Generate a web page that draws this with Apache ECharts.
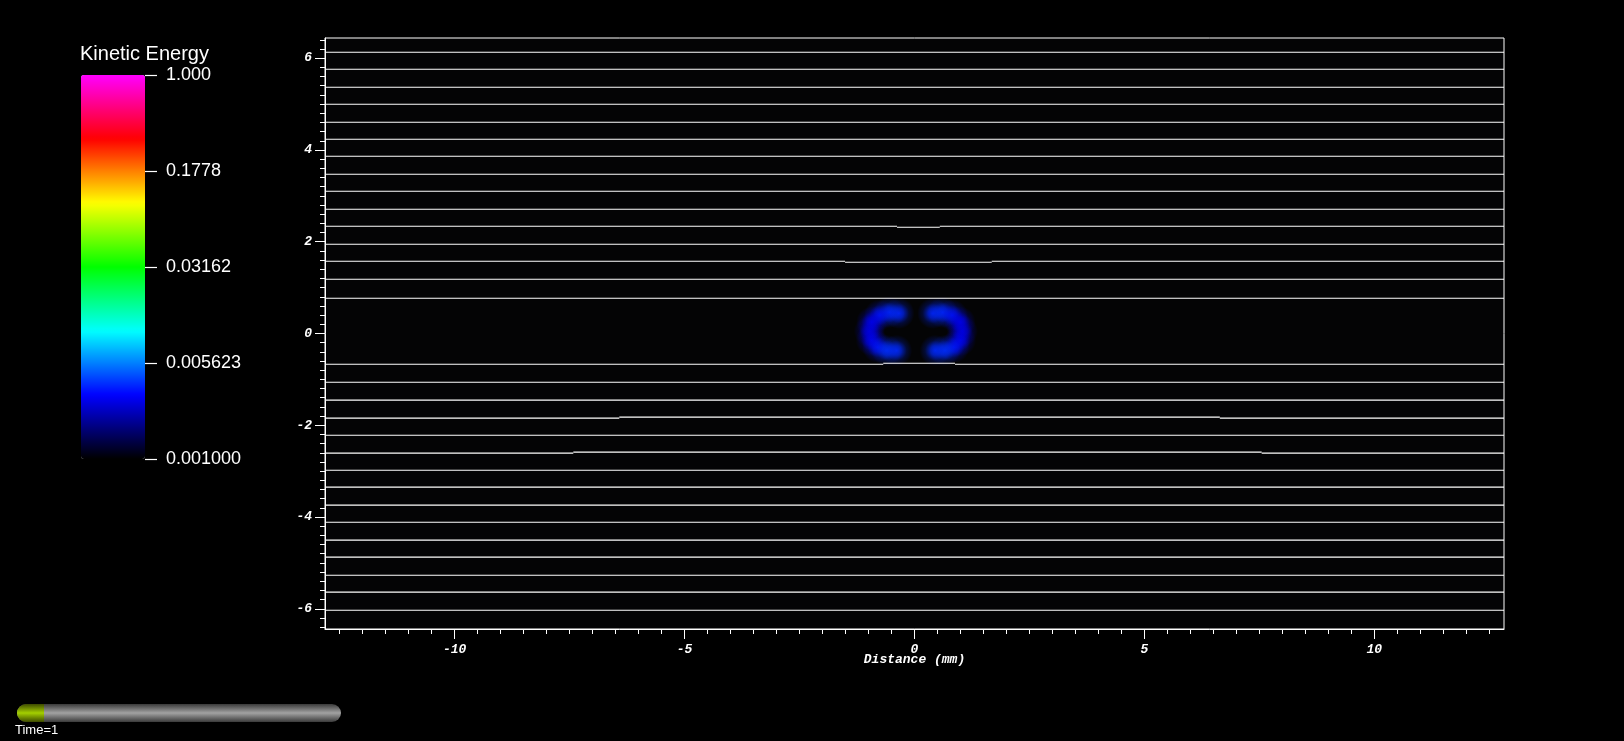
<!DOCTYPE html>
<html>
<head>
<meta charset="utf-8">
<script src="https://cdn.jsdelivr.net/npm/echarts@6/dist/echarts.min.js"></script>
<style>
html,body{margin:0;padding:0;background:#000;}
#c{width:1624px;height:741px;}
</style>
</head>
<body>
<div id="c"></div>
<script>
// ---------------- data ----------------
const xRange = [-12.82, 12.82];
const yRange = [-6.44, 6.44];
const xMajorTicks = [-10, -5, 0, 5, 10];
const yMajorTicks = [-6, -4, -2, 0, 2, 4, 6];
const xMinorStep = 0.5;
const yMinorStep = 0.2;
const xAxisTitle = 'Distance (mm)';

// white contour lines: base level of each line (mm)
const lineLevels = [6.130, 5.759, 5.367, 4.996, 4.604, 4.234, 3.864, 3.471, 3.101, 2.709,
  2.338, 1.946, 1.576, 1.183, 0.769,
  -0.669, -1.061, -1.453, -1.845, -2.216, -2.608, -2.979, -3.349, -3.741, -4.112,
  -4.504, -4.874, -5.267, -5.637, -6.030];
// small steps in some lines: line index, x start, x end, level inside the step
const stepLine = [10, 12, 15, 18, 20];
const stepX0 = [-0.38, -1.51, -0.68, -6.42, -7.42];
const stepX1 = [0.55, 1.68, 0.88, 6.64, 7.55];
const stepLevel = [2.316, 1.554, -0.647, -1.823, -2.586];

// kinetic energy field samples (two crescents): x, y (mm), log10(KE)
const blobX = [-0.34, -0.55, -0.76, -0.93, -0.98, -0.94, -0.80, -0.60, -0.39,
  0.40, 0.61, 0.82, 0.99, 1.04, 1.00, 0.86, 0.66, 0.45];
const blobY = [0.44, 0.46, 0.40, 0.25, 0.05, -0.15, -0.30, -0.37, -0.37,
  0.44, 0.46, 0.40, 0.25, 0.05, -0.15, -0.30, -0.37, -0.37];
const blobLogKE = [-2.43, -2.42, -2.46, -2.52, -2.55, -2.53, -2.47, -2.41, -2.42,
  -2.43, -2.42, -2.46, -2.52, -2.55, -2.53, -2.47, -2.41, -2.42];

const colorbarTitle = 'Kinetic Energy';
const colorbarTickValues = [-3, -2.25, -1.5, -0.75, 0];
const colorbarTickLabels = ['0.001000', '0.005623', '0.03162', '0.1778', '1.000'];
const timeLabel = 'Time=1';

// ---------------- styles ----------------
const colormap = ['#000000', '#0000ff', '#00ffff', '#00ff00', '#ffff00', '#ff0000', '#ff00ff'];
const axisFont = {color: '#fff', fontFamily: 'Liberation Mono', fontStyle: 'italic', fontWeight: 'bold', fontSize: 13};
const blobRadius = 0.34;

function range(a, b, step) {
  const out = [];
  const n = Math.round((b - a) / step);
  for (let i = 0; i <= n; i++) out.push(+(a + i * step).toFixed(4));
  return out;
}
const xMinorTicks = range(-12.5, 12.5, xMinorStep);
const yMinorTicks = range(-6.4, 6.4, yMinorStep);

const blobData = blobX.map((x, i) => [x, blobY[i], blobLogKE[i]]);

function renderBlob(params, api) {
  const c = api.coord([api.value(0), api.value(1)]);
  const s = api.size([blobRadius, blobRadius]);
  const col = api.visual('color');
  return {
    type: 'circle',
    shape: {cx: c[0], cy: c[1], r: s[0]},
    style: {
      fill: {
        type: 'radial', x: 0.5, y: 0.5, r: 0.5,
        colorStops: [
          {offset: 0, color: echarts.color.modifyAlpha(col, 0.9)},
          {offset: 0.3, color: echarts.color.modifyAlpha(col, 0.68)},
          {offset: 0.65, color: echarts.color.modifyAlpha(col, 0.2)},
          {offset: 1, color: echarts.color.modifyAlpha(col, 0)}
        ]
      }
    }
  };
}

// each line is split into flat pieces (the step offsets are about 1 px)
const linePieces = [];
lineLevels.forEach((lv, i) => {
  const k = stepLine.indexOf(i);
  if (k < 0) {
    linePieces.push([[xRange[0], lv], [xRange[1], lv]]);
  } else {
    linePieces.push([[xRange[0], lv], [stepX0[k], lv]]);
    linePieces.push([[stepX0[k], stepLevel[k]], [stepX1[k], stepLevel[k]]]);
    linePieces.push([[stepX1[k], lv], [xRange[1], lv]]);
  }
});
const lineSeries = linePieces.map(pts => ({
  type: 'line', xAxisIndex: 0, yAxisIndex: 0, data: pts,
  symbol: 'none', showSymbol: false, silent: true, z: 3,
  lineStyle: {color: '#ffffff', width: 1.1}
}));

const chart = echarts.init(document.getElementById('c'), null, {renderer: 'canvas'});
chart.setOption({
  backgroundColor: '#000000',
  animation: false,
  title: {
    text: colorbarTitle, left: 80, top: 44, padding: 0,
    textStyle: {color: '#fff', fontSize: 20, fontWeight: 'normal', fontFamily: 'Liberation Sans'}
  },
  grid: [
    {left: 325, top: 38, width: 1179, height: 591, show: true, borderColor: '#fff', borderWidth: 1, backgroundColor: '#040405'},
    {left: 144, top: 75, width: 1, height: 384, show: false}
  ],
  xAxis: [
    {
      gridIndex: 0, type: 'value', min: xRange[0], max: xRange[1], position: 'bottom',
      axisLine: {show: true, onZero: false, lineStyle: {color: '#fff', width: 1}},
      axisTick: {show: true, customValues: xMajorTicks, length: 10, lineStyle: {color: '#fff', width: 1}},
      axisLabel: Object.assign({customValues: xMajorTicks, margin: 14}, axisFont),
      splitLine: {show: false},
      name: xAxisTitle, nameLocation: 'middle', nameGap: 24, nameMoveOverlap: false,
      nameTextStyle: axisFont
    },
    {
      gridIndex: 0, type: 'value', min: xRange[0], max: xRange[1], position: 'bottom',
      axisLine: {show: false, onZero: false},
      axisTick: {show: true, customValues: xMinorTicks, length: 5, lineStyle: {color: '#fff', width: 1}},
      axisLabel: {show: false}, splitLine: {show: false}
    },
    {gridIndex: 1, type: 'value', show: false, axisLine: {onZero: false}}
  ],
  yAxis: [
    {
      gridIndex: 0, type: 'value', min: yRange[0], max: yRange[1], position: 'left',
      axisLine: {show: true, onZero: false, lineStyle: {color: '#fff', width: 1}},
      axisTick: {show: true, customValues: yMajorTicks, length: 10, lineStyle: {color: '#fff', width: 1}},
      axisLabel: Object.assign({customValues: yMajorTicks, margin: 13}, axisFont),
      splitLine: {show: false}
    },
    {
      gridIndex: 0, type: 'value', min: yRange[0], max: yRange[1], position: 'left',
      axisLine: {show: false, onZero: false},
      axisTick: {show: true, customValues: yMinorTicks, length: 5, lineStyle: {color: '#fff', width: 1}},
      axisLabel: {show: false}, splitLine: {show: false}
    },
    {
      gridIndex: 1, type: 'value', min: -3, max: 0, position: 'right',
      axisLine: {show: false, onZero: false},
      axisTick: {show: true, customValues: colorbarTickValues, length: 12, lineStyle: {color: '#fff', width: 1.2}},
      axisLabel: {
        customValues: colorbarTickValues, margin: 21, color: '#fff',
        fontFamily: 'Liberation Sans', fontSize: 18,
        formatter: v => colorbarTickLabels[colorbarTickValues.indexOf(v)]
      },
      splitLine: {show: false}
    }
  ],
  visualMap: {
    type: 'continuous', min: -3, max: 0, dimension: 2, seriesIndex: 0,
    left: 81, top: 75, itemWidth: 64, itemHeight: 384, padding: 0,
    calculable: false, hoverLink: false,
    inRange: {color: colormap},
    textStyle: {color: '#fff'}
  },
  graphic: [
    {
      type: 'rect', silent: true,
      shape: {x: 17, y: 704, width: 324, height: 18, r: 9},
      style: {fill: {type: 'linear', x: 0, y: 0, x2: 0, y2: 1, colorStops: [
        {offset: 0, color: '#3a3a3a'}, {offset: 0.5, color: '#a2a2a2'}, {offset: 1, color: '#3a3a3a'}]}}
    },
    {
      type: 'rect', silent: true,
      shape: {x: 17, y: 704, width: 27, height: 18, r: [9, 0, 0, 9]},
      style: {fill: {type: 'linear', x: 0, y: 0, x2: 0, y2: 1, colorStops: [
        {offset: 0, color: '#3d4a00'}, {offset: 0.5, color: '#a4cf00'}, {offset: 1, color: '#3d4a00'}]}}
    },
    {
      type: 'text', silent: true, x: 15, y: 724,
      style: {text: timeLabel, fill: '#fff', font: '13px "Liberation Sans"'}
    }
  ],
  series: [
    {
      type: 'custom', xAxisIndex: 0, yAxisIndex: 0, data: blobData,
      renderItem: renderBlob, silent: true, z: 1
    }
  ].concat(lineSeries)
});
</script>
</body>
</html>
